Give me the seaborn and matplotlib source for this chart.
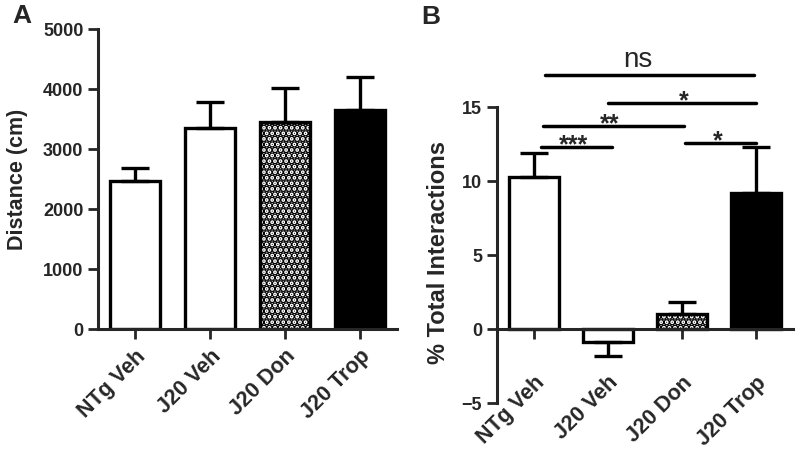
import pandas as pd
import matplotlib.pyplot as plt
import seaborn as sns

groups = ['NTg Veh', 'J20 Veh', 'J20 Don', 'J20 Trop']
distance = [2470, 3350, 3450, 3650]
distance_sem = [215, 430, 565, 555]
interactions = [10.3, -0.9, 1.0, 9.2]
interactions_sem = [1.6, 0.9, 0.8, 3.1]
bar_colors = ['white', 'white', 'white', 'black']

# significance bars in panel B: start group, end group, height, label
sig_from = [0.15, 1.0, 0.12, 0.1, 2.05]
sig_to = [2.97, 3.0, 2.03, 1.05, 3.0]
sig_y = [17.2, 15.3, 13.7, 12.3, 12.6]
sig_text = ['ns', '*', '**', '***', '*']
sig_text_x = [1.4, 2.03, 1.03, 0.53, 2.49]

sns.set_style('ticks')
plt.rcParams['font.family'] = ['Liberation Sans', 'DejaVu Sans']
plt.rcParams['font.weight'] = 'bold'
plt.rcParams['axes.labelweight'] = 'bold'
plt.rcParams['hatch.linewidth'] = 3.6

fig = plt.figure(figsize=(8, 4.51), dpi=100)
ax1 = fig.add_axes([0.1225, 0.2705, 0.374, 0.665])
ax2 = fig.add_axes([0.621, 0.1064, 0.37, 0.656])


def draw_bars(ax, values, sem, capsize):
    df = pd.DataFrame({'group': groups, 'value': values})
    sns.barplot(data=df, x='group', y='value', hue='group',
                palette=dict(zip(groups, bar_colors)), saturation=1,
                legend=False, width=0.67, edgecolor='black', linewidth=2.4, ax=ax)
    ax.containers[2][0].set_hatch('...')  # checkerboard-like fill
    lower = [e if v < 0 else 0 for v, e in zip(values, sem)]
    upper = [e if v >= 0 else 0 for v, e in zip(values, sem)]
    ax.errorbar(range(len(groups)), values, yerr=[lower, upper], fmt='none',
                ecolor='black', elinewidth=2.4, capsize=capsize, capthick=2.4)
    sns.despine(ax=ax)
    for s in ['left', 'bottom']:
        ax.spines[s].set_linewidth(2.2)
    ax.set_xlim(-0.5, 3.5)
    ax.set_xlabel('')
    ax.tick_params(width=2, length=7, labelsize=13)
    ax.tick_params(axis='x', labelsize=15.5)


# panel A
draw_bars(ax1, distance, distance_sem, 10)
ax1.set_ylim(0, 5000)
ax1.set_yticks([0, 1000, 2000, 3000, 4000, 5000])
ax1.set_ylabel('Distance (cm)', fontsize=15.5)
ax1.yaxis.set_label_coords(-0.235, 0.5)
ax1.tick_params(axis='x', pad=5)
plt.setp(ax1.get_xticklabels(), rotation=45, ha='right', rotation_mode='anchor')

# panel B
draw_bars(ax2, interactions, interactions_sem, 10)
ax2.set_ylim(-5, 15)
ax2.set_yticks([-5, 0, 5, 10, 15])
ax2.spines['bottom'].set_position(('data', 0))
ax2.set_ylabel('% Total Interactions', fontsize=17)
ax2.yaxis.set_label_coords(-0.158, 0.51)
ax2.tick_params(axis='x', pad=24)
plt.setp(ax2.get_xticklabels(), rotation=45, ha='right', rotation_mode='anchor')

for x0, x1, y, t, tx in zip(sig_from, sig_to, sig_y, sig_text, sig_text_x):
    ax2.plot([x0, x1], [y, y], color='black', lw=2.5, clip_on=False)
    if t == 'ns':
        ax2.text(tx, y + 0.5, t, ha='center', va='baseline', fontsize=20,
                 fontweight='normal')
    else:
        ax2.text(tx, y - 0.35, t, ha='center', va='baseline', fontsize=18)

fig.text(0.015, 0.965, 'A', fontsize=19, va='center', ha='left')
fig.text(0.527, 0.962, 'B', fontsize=19, va='center', ha='left')

fig.savefig('out.png', dpi=100, facecolor='white')
